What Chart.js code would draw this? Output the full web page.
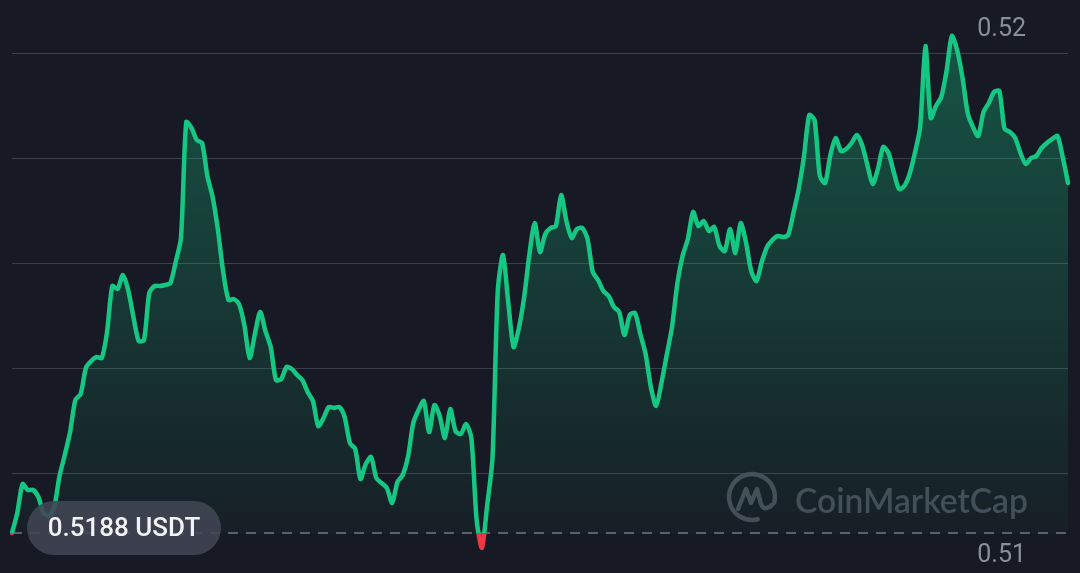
<!DOCTYPE html>
<html>
<head>
<meta charset="utf-8">
<script src="https://cdn.jsdelivr.net/npm/chart.js@4.4.0/dist/chart.umd.min.js"></script>
<style>
  html, body { margin: 0; padding: 0; background: #171a24; }
  canvas { display: block; }
</style>
</head>
<body>
<canvas id="priceChart" width="1080" height="573"></canvas>
<script>
// 24h price, USDT (roughly one sample every 7.2 minutes)
const prices = [
  0.51880, 0.51900, 0.51929, 0.51923, 0.51923, 0.51916, 0.51900, 0.51897, 0.51906, 0.51937,
  0.51958, 0.51981, 0.52013, 0.52019, 0.52045, 0.52052, 0.52056, 0.52055, 0.52081, 0.52127,
  0.52124, 0.52138, 0.52123, 0.52096, 0.52072, 0.52073, 0.52120, 0.52127, 0.52127, 0.52128,
  0.52130, 0.52151, 0.52175, 0.52291, 0.52285, 0.52273, 0.52270, 0.52237, 0.52216, 0.52183,
  0.52141, 0.52113, 0.52114, 0.52109, 0.52088, 0.52055, 0.52079, 0.52101, 0.52082, 0.52066,
  0.52033, 0.52034, 0.52046, 0.52044, 0.52038, 0.52033, 0.52021, 0.52012, 0.51987, 0.51995,
  0.52006, 0.52005, 0.52006, 0.51996, 0.51970, 0.51964, 0.51934, 0.51949, 0.51956, 0.51935,
  0.51930, 0.51925, 0.51910, 0.51931, 0.51938, 0.51956, 0.51990, 0.52003, 0.52012, 0.51981,
  0.52008, 0.51997, 0.51975, 0.52004, 0.51982, 0.51979, 0.51989, 0.51975, 0.51893, 0.51865,
  0.51908, 0.51955, 0.52122, 0.52158, 0.52110, 0.52066, 0.52085, 0.52116, 0.52159, 0.52190,
  0.52161, 0.52179, 0.52185, 0.52187, 0.52218, 0.52192, 0.52175, 0.52184, 0.52185, 0.52174,
  0.52141, 0.52133, 0.52122, 0.52117, 0.52106, 0.52101, 0.52078, 0.52098, 0.52100, 0.52079,
  0.52059, 0.52026, 0.52007, 0.52030, 0.52058, 0.52086, 0.52129, 0.52157, 0.52174, 0.52201,
  0.52187, 0.52192, 0.52182, 0.52186, 0.52167, 0.52162, 0.52184, 0.52160, 0.52190, 0.52171,
  0.52142, 0.52132, 0.52151, 0.52166, 0.52173, 0.52177, 0.52176, 0.52178, 0.52200, 0.52224,
  0.52257, 0.52298, 0.52293, 0.52237, 0.52230, 0.52258, 0.52275, 0.52262, 0.52264, 0.52270,
  0.52278, 0.52268, 0.52248, 0.52229, 0.52244, 0.52266, 0.52260, 0.52241, 0.52224, 0.52227,
  0.52239, 0.52260, 0.52286, 0.52367, 0.52295, 0.52307, 0.52316, 0.52342, 0.52377, 0.52363,
  0.52336, 0.52300, 0.52286, 0.52277, 0.52301, 0.52310, 0.52321, 0.52322, 0.52284, 0.52281,
  0.52275, 0.52260, 0.52249, 0.52255, 0.52257, 0.52265, 0.52270, 0.52274, 0.52277, 0.52256,
  0.52230
];
const times = prices.map((_, i) => {
  const m = Math.round(i * 7.2);
  return String(Math.floor(m / 60)).padStart(2, '0') + ':' + String(m % 60).padStart(2, '0');
});

const openPrice = 0.5188;
const openLabel = '0.5188 USDT';
const gridLevels = [0.51939, 0.52044, 0.52149, 0.52255, 0.52360];
const sideLabels = ['0.52', '0.51'];
const sideLevels = [0.52383, 0.51857];
const yMin = 0.51840;
const yMax = 0.52413;

const green = '#16c784';
const red = '#ea3943';

const overlay = {
  id: 'overlay',
  beforeDatasetsDraw(chart) {
    const { ctx, chartArea, scales } = chart;
    const y = scales.y.getPixelForValue(openPrice);

    // watermark
    ctx.save();
    ctx.strokeStyle = '#454957';
    ctx.fillStyle = '#454957';
    ctx.lineWidth = 4.5;
    ctx.lineCap = 'round';
    ctx.lineJoin = 'round';
    ctx.beginPath();
    ctx.arc(752, 497, 23, 0.42 * Math.PI, 2.08 * Math.PI);
    ctx.stroke();
    ctx.beginPath();
    ctx.moveTo(738, 509);
    ctx.lineTo(746, 489);
    ctx.lineTo(751, 503);
    ctx.lineTo(757, 489);
    ctx.lineTo(761, 504);
    ctx.quadraticCurveTo(764, 512, 772, 505);
    ctx.stroke();
    ctx.font = '600 36px Lato';
    const w = ctx.measureText('CoinMarketCap').width;
    const size = 36 * 233 / w;
    ctx.font = '600 ' + size.toFixed(1) + 'px Lato';
    ctx.textBaseline = 'alphabetic';
    ctx.fillText('CoinMarketCap', 795, 513);
    ctx.restore();

    // dashed open price line
    ctx.save();
    ctx.strokeStyle = '#5a5e6c';
    ctx.lineWidth = 2;
    ctx.setLineDash([10, 8]);
    ctx.beginPath();
    ctx.moveTo(chartArea.left, y);
    ctx.lineTo(chartArea.right, y);
    ctx.stroke();
    ctx.restore();
  },
  afterDatasetsDraw(chart) {
    const { ctx, scales } = chart;

    ctx.save();
    ctx.fillStyle = 'rgba(66, 70, 84, 0.88)';
    ctx.beginPath();
    ctx.roundRect(27, 501, 194, 54, 27);
    ctx.fill();
    ctx.fillStyle = '#f2f3f5';
    ctx.font = '500 26px Roboto';
    ctx.textAlign = 'center';
    ctx.textBaseline = 'middle';
    ctx.fillText(openLabel, 124, 529);

    ctx.fillStyle = '#8a8f9c';
    ctx.font = '25px Roboto';
    ctx.textAlign = 'right';
    sideLabels.forEach((t, i) => {
      ctx.fillText(t, 1026, scales.y.getPixelForValue(sideLevels[i]));
    });
    ctx.restore();
  }
};

new Chart(document.getElementById('priceChart'), {
  type: 'line',
  data: {
    labels: times,
    datasets: [{
      data: prices,
      borderWidth: 4.5,
      tension: 0.25,
      pointRadius: 0,
      borderJoinStyle: 'round',
      borderCapStyle: 'round',
      borderColor: (c) => {
        const { ctx, chartArea, scales } = c.chart;
        if (!chartArea) return green;
        const base = scales.y.getPixelForValue(openPrice);
        const t = (base - chartArea.top) / (chartArea.bottom - chartArea.top);
        const g = ctx.createLinearGradient(0, chartArea.top, 0, chartArea.bottom);
        g.addColorStop(0, green);
        g.addColorStop(t, green);
        g.addColorStop(t, red);
        g.addColorStop(1, red);
        return g;
      },
      backgroundColor: (c) => {
        const { ctx, chartArea, scales } = c.chart;
        if (!chartArea) return 'rgba(22,199,132,0.2)';
        const base = scales.y.getPixelForValue(openPrice);
        const g = ctx.createLinearGradient(0, chartArea.top, 0, base);
        g.addColorStop(0, 'rgba(22,199,132,0.36)');
        g.addColorStop(1, 'rgba(22,199,132,0.03)');
        return g;
      },
      fill: { value: openPrice, below: 'rgba(234,57,67,0.6)' }
    }]
  },
  options: {
    responsive: false,
    animation: false,
    layout: { padding: { left: 12, right: 12, top: 0, bottom: 0 } },
    plugins: {
      legend: { display: false },
      tooltip: { enabled: false }
    },
    scales: {
      x: { display: false },
      y: {
        min: yMin,
        max: yMax,
        border: { display: false },
        grid: { color: '#3b3f4c', lineWidth: 1, drawTicks: false },
        ticks: { display: false },
        afterBuildTicks: (scale) => {
          scale.ticks = gridLevels.map(v => ({ value: v }));
        }
      }
    }
  },
  plugins: [overlay]
});
</script>
</body>
</html>
